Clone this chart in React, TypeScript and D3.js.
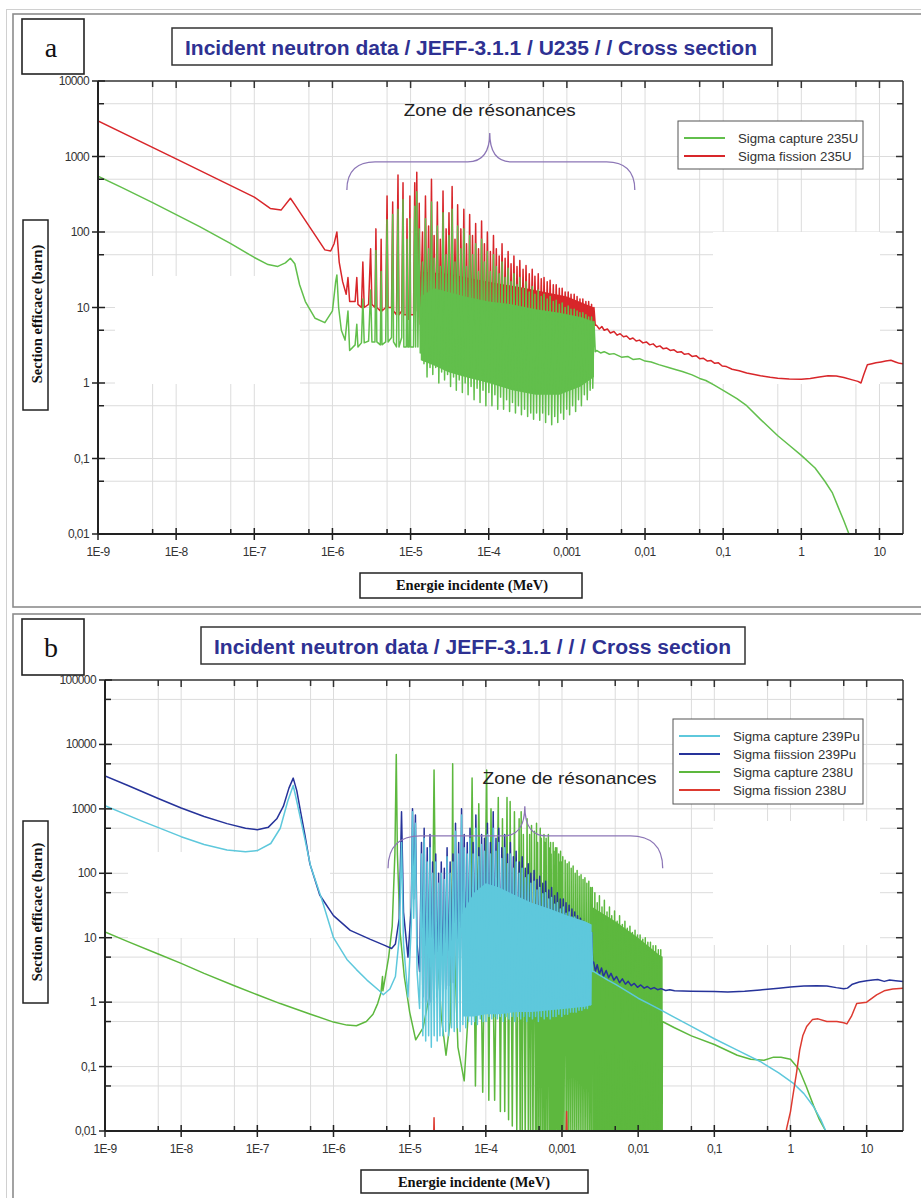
import React from 'react';
import * as d3 from 'd3';

type Pt = [number, number];
type Res = [number, number, number]; // energy, peak, following trough
type Band = [number, number, number]; // energy, low, high

// ================= Panel a : U235 =================
const titleA = 'Incident neutron data / JEFF-3.1.1 / U235 / / Cross section';
const legendLabelsA = ['Sigma capture 235U', 'Sigma fission 235U'];
const xTickValuesA = [1e-9, 1e-8, 1e-7, 1e-6, 1e-5, 1e-4, 1e-3, 1e-2, 1e-1, 1, 10];
const xTickLabelsA = ['1E-9', '1E-8', '1E-7', '1E-6', '1E-5', '1E-4', '0,001', '0,01', '0,1', '1', '10'];
const yTickValuesA = [0.01, 0.1, 1, 10, 100, 1000, 10000];
const yTickLabelsA = ['0,01', '0,1', '1', '10', '100', '1000', '10000'];

const capture235Before: Pt[] = [
  [1e-9, 550], [2e-9, 390], [5e-9, 245], [1e-8, 170], [2e-8, 118], [5e-8, 70], [1e-7, 46], [1.5e-7, 37],
  [2e-7, 35], [2.5e-7, 39], [2.9e-7, 45], [3.3e-7, 38], [3.8e-7, 20], [4.5e-7, 12], [6e-7, 7.2], [8e-7, 6.3],
  [1e-6, 9], [1.1e-6, 22], [1.14e-6, 27], [1.2e-6, 10], [1.3e-6, 5], [1.45e-6, 3.7], [1.58e-6, 9], [1.66e-6, 2.7],
  [1.95e-6, 3.2], [2.05e-6, 6], [2.12e-6, 3], [2.35e-6, 3.4], [2.45e-6, 13], [2.55e-6, 3.4], [2.9e-6, 3.6],
  [3.08e-6, 17], [3.2e-6, 3.5], [3.5e-6, 3.5], [3.6e-6, 57], [3.7e-6, 3.5], [4.1e-6, 3.2], [4.2e-6, 30],
  [4.3e-6, 3.2], [4.8e-6, 3.5], [5.0e-6, 145], [5.15e-6, 3.5], [5.7e-6, 4], [5.9e-6, 170], [6.05e-6, 3.5],
  [6.6e-6, 3], [6.9e-6, 200], [7.1e-6, 3], [7.7e-6, 4], [8.0e-6, 270], [8.2e-6, 3], [8.8e-6, 3],
  [9.0e-6, 80], [9.2e-6, 3], [9.6e-6, 3], [9.8e-6, 150], [1.0e-5, 3], [1.09e-5, 3], [1.13e-5, 220],
  [1.16e-5, 3], [1.2e-5, 340], [1.24e-5, 3], [1.29e-5, 110], [1.33e-5, 2.5]
];
const capture235Res: Res[] = [
  [1.42e-5, 40, 1.8], [1.55e-5, 150, 1.2], [1.7e-5, 60, 1.6], [1.85e-5, 250, 1.3], [2.0e-5, 45, 1.6],
  [2.2e-5, 120, 1.0], [2.4e-5, 35, 1.4], [2.6e-5, 180, 1.1], [2.85e-5, 50, 1.3], [3.1e-5, 90, 0.9],
  [3.4e-5, 200, 1.2], [3.7e-5, 40, 0.8], [4.0e-5, 120, 1.1], [4.4e-5, 60, 0.75], [4.8e-5, 110, 1.0],
  [5.2e-5, 35, 0.7], [5.7e-5, 90, 0.9], [6.2e-5, 50, 0.6], [6.8e-5, 70, 0.85], [7.4e-5, 30, 0.55],
  [8.1e-5, 80, 0.8], [8.8e-5, 40, 0.5], [9.6e-5, 55, 0.75], [1.05e-4, 30, 0.5], [1.15e-4, 50, 0.7],
  [1.25e-4, 35, 0.45], [1.36e-4, 28, 0.65], [1.48e-4, 40, 0.45], [1.62e-4, 25, 0.6], [1.77e-4, 33, 0.42],
  [1.93e-4, 22, 0.55], [2.1e-4, 28, 0.4], [2.3e-4, 20, 0.5], [2.5e-4, 25, 0.38], [2.75e-4, 18, 0.45],
  [3.0e-4, 22, 0.36], [3.3e-4, 16, 0.4], [3.6e-4, 19, 0.33], [3.9e-4, 15, 0.4], [4.3e-4, 17, 0.32],
  [4.7e-4, 14, 0.4], [5.1e-4, 15, 0.3], [5.6e-4, 13, 0.38], [6.1e-4, 14, 0.28], [6.7e-4, 12, 0.36],
  [7.3e-4, 12.5, 0.3], [8.0e-4, 11, 0.4], [8.7e-4, 11.5, 0.33], [9.5e-4, 10, 0.45], [1.04e-3, 10.5, 0.38],
  [1.13e-3, 9.5, 0.5], [1.24e-3, 9.5, 0.42], [1.35e-3, 9, 0.6], [1.47e-3, 8.5, 0.5], [1.6e-3, 8.5, 0.7],
  [1.75e-3, 8, 0.6], [1.9e-3, 7.5, 0.8], [2.07e-3, 7.5, 0.85], [2.22e-3, 6.5, 2.6]
];
const capture235Band: Band[] = [
  [1.35e-5, 2, 14], [2e-5, 1.7, 18], [3e-5, 1.4, 16], [5e-5, 1.2, 14], [1e-4, 1.0, 12], [2e-4, 0.8, 11],
  [4e-4, 0.7, 9.5], [8e-4, 0.7, 8.5], [1.5e-3, 0.9, 7.5], [2.22e-3, 1.2, 6.5]
];
const capture235After: Pt[] = [
  [2.4e-3, 2.7], [2.7e-3, 2.5], [3e-3, 2.6], [3.5e-3, 2.4], [4e-3, 2.45], [5e-3, 2.2], [6e-3, 2.25],
  [7e-3, 2.05], [8.5e-3, 2.1], [1e-2, 1.95], [1.2e-2, 1.9], [1.5e-2, 1.75], [2e-2, 1.6], [2.5e-2, 1.5],
  [3e-2, 1.42], [4e-2, 1.28], [5e-2, 1.15], [6e-2, 1.08], [7.5e-2, 0.95], [0.1, 0.8], [0.15, 0.62],
  [0.2, 0.5], [0.3, 0.33], [0.5, 0.2], [0.7, 0.15], [1, 0.11], [1.5, 0.075], [2, 0.05], [2.5, 0.035],
  [3, 0.022], [3.5, 0.015], [4, 0.0105], [4.5, 0.007]
];

const fission235Before: Pt[] = [
  [1e-9, 2950], [1e-8, 930], [1e-7, 290], [1.6e-7, 205], [2.2e-7, 195], [2.9e-7, 280], [3.3e-7, 230],
  [3.8e-7, 185], [6e-7, 91], [8e-7, 58], [9.5e-7, 56], [1.05e-6, 70], [1.14e-6, 100], [1.22e-6, 40],
  [1.35e-6, 22], [1.5e-6, 15], [1.58e-6, 25], [1.66e-6, 12], [1.95e-6, 12], [2.05e-6, 25], [2.12e-6, 11],
  [2.35e-6, 10], [2.45e-6, 40], [2.55e-6, 10], [2.9e-6, 11], [3.08e-6, 60], [3.2e-6, 11], [3.5e-6, 10],
  [3.6e-6, 110], [3.7e-6, 10], [4.1e-6, 9], [4.2e-6, 80], [4.3e-6, 9], [4.8e-6, 10], [5.0e-6, 300],
  [5.15e-6, 10], [5.7e-6, 10], [5.9e-6, 250], [6.05e-6, 9], [6.6e-6, 8], [6.9e-6, 570], [7.1e-6, 8],
  [7.7e-6, 9], [8.0e-6, 450], [8.2e-6, 8], [8.8e-6, 8], [9.0e-6, 150], [9.2e-6, 7], [9.6e-6, 7],
  [9.8e-6, 300], [1.0e-5, 8], [1.09e-5, 8], [1.13e-5, 450], [1.16e-5, 9], [1.2e-5, 620], [1.24e-5, 8],
  [1.29e-5, 240], [1.33e-5, 6]
];
const fission235Res: Res[] = [
  [1.42e-5, 100, 4.5], [1.55e-5, 300, 4.5], [1.7e-5, 120, 4.5], [1.85e-5, 500, 4], [2.0e-5, 90, 4],
  [2.2e-5, 250, 4], [2.4e-5, 80, 4], [2.6e-5, 350, 3.8], [2.85e-5, 110, 3.8], [3.1e-5, 180, 3.6],
  [3.4e-5, 400, 3.6], [3.7e-5, 80, 3.5], [4.0e-5, 230, 3.5], [4.4e-5, 110, 3.4], [4.8e-5, 200, 3.4],
  [5.2e-5, 70, 3.3], [5.7e-5, 170, 3.3], [6.2e-5, 90, 3.2], [6.8e-5, 130, 3.2], [7.4e-5, 60, 3.1],
  [8.1e-5, 140, 3.1], [8.8e-5, 70, 3], [9.6e-5, 100, 3], [1.05e-4, 55, 3], [1.15e-4, 90, 3],
  [1.25e-4, 60, 3], [1.36e-4, 48, 3], [1.48e-4, 70, 3], [1.62e-4, 45, 3], [1.77e-4, 55, 3],
  [1.93e-4, 38, 3], [2.1e-4, 48, 3], [2.3e-4, 35, 3], [2.5e-4, 42, 3], [2.75e-4, 32, 3],
  [3.0e-4, 36, 3], [3.3e-4, 28, 3], [3.6e-4, 32, 3], [3.9e-4, 26, 3], [4.3e-4, 28, 3], [4.7e-4, 24, 3],
  [5.1e-4, 25, 3], [5.6e-4, 22, 3], [6.1e-4, 23, 3], [6.7e-4, 20, 3], [7.3e-4, 20, 3], [8.0e-4, 18, 3],
  [8.7e-4, 18, 3], [9.5e-4, 16, 3], [1.04e-3, 16, 3], [1.13e-3, 15, 3], [1.24e-3, 15, 3],
  [1.35e-3, 14, 3], [1.47e-3, 13, 3], [1.6e-3, 13, 3], [1.75e-3, 12, 3], [1.9e-3, 12, 3],
  [2.07e-3, 11, 3], [2.22e-3, 10, 5.8]
];
const fission235Band: Band[] = [
  [1.35e-5, 4, 30], [3e-5, 3.5, 28], [1e-4, 3, 22], [3e-4, 3, 18], [1e-3, 3, 14], [2.22e-3, 4, 10]
];
const fission235After: Pt[] = [
  [2.4e-3, 5.8], [2.6e-3, 5.2], [2.8e-3, 5.6], [3.0e-3, 5.0], [3.3e-3, 5.2], [3.6e-3, 4.6], [4.0e-3, 4.8],
  [4.4e-3, 4.3], [4.8e-3, 4.5], [5.3e-3, 4.1], [5.8e-3, 4.2], [6.4e-3, 3.8], [7e-3, 3.95], [7.7e-3, 3.6],
  [8.5e-3, 3.7], [9.4e-3, 3.4], [1.04e-2, 3.5], [1.15e-2, 3.2], [1.27e-2, 3.3], [1.4e-2, 3.0],
  [1.55e-2, 3.1], [1.7e-2, 2.85], [1.9e-2, 2.9], [2.1e-2, 2.7], [2.35e-2, 2.75], [2.6e-2, 2.55],
  [2.9e-2, 2.6], [3.2e-2, 2.4], [3.6e-2, 2.45], [4e-2, 2.25], [4.5e-2, 2.3], [5e-2, 2.1], [5.6e-2, 2.12],
  [6.3e-2, 1.95], [7e-2, 1.98], [7.8e-2, 1.82], [8.7e-2, 1.85], [9.7e-2, 1.68], [0.11, 1.65],
  [0.13, 1.52], [0.16, 1.45], [0.2, 1.36], [0.25, 1.3], [0.3, 1.25], [0.4, 1.19], [0.5, 1.16],
  [0.7, 1.13], [1, 1.12], [1.3, 1.15], [1.7, 1.2], [2.2, 1.25], [2.8, 1.24], [3.5, 1.18], [4.5, 1.1],
  [5.3, 1.05], [5.8, 1.0], [6.3, 1.3], [7, 1.75], [8, 1.8], [9, 1.85], [10.5, 1.9], [12, 1.95],
  [14, 2.0], [16, 1.9], [18, 1.82], [20, 1.8]
];

// ================= Panel b : Pu239 / U238 =================
const titleB = 'Incident neutron data / JEFF-3.1.1 / / / Cross section';
const legendLabelsB = ['Sigma capture 239Pu', 'Sigma fiission 239Pu', 'Sigma capture 238U', 'Sigma fission 238U'];
const xTickValuesB = [1e-9, 1e-8, 1e-7, 1e-6, 1e-5, 1e-4, 1e-3, 1e-2, 1e-1, 1, 10];
const xTickLabelsB = ['1E-9', '1E-8', '1E-7', '1E-6', '1E-5', '1E-4', '0,001', '0,01', '0,1', '1', '10'];
const yTickValuesB = [0.01, 0.1, 1, 10, 100, 1000, 10000, 100000];
const yTickLabelsB = ['0,01', '0,1', '1', '10', '100', '1000', '10000', '100000'];

const fission239Before: Pt[] = [
  [1e-9, 3240], [2e-9, 2300], [5e-9, 1450], [1e-8, 1030], [2e-8, 760], [4e-8, 590], [7e-8, 500],
  [1e-7, 475], [1.4e-7, 520], [1.8e-7, 700], [2.2e-7, 1100], [2.6e-7, 2100], [2.96e-7, 3000],
  [3.3e-7, 1900], [3.7e-7, 900], [4.2e-7, 400], [4.9e-7, 140], [6.6e-7, 46], [1e-6, 22], [1.66e-6, 13],
  [3e-6, 9.5], [4.7e-6, 7.6], [5.8e-6, 6.8], [6.5e-6, 8], [7.3e-6, 20], [7.82e-6, 900], [8.3e-6, 25],
  [9.5e-6, 5], [1.05e-5, 30], [1.09e-5, 1000], [1.13e-5, 40], [1.19e-5, 800], [1.25e-5, 8], [1.35e-5, 3]
];
const fission239Res: Res[] = [
  [1.43e-5, 300, 1.2], [1.55e-5, 500, 1.0], [1.7e-5, 250, 0.9], [1.85e-5, 400, 1.0], [2.0e-5, 150, 1.1],
  [2.2e-5, 200, 1.2], [2.4e-5, 100, 1.3], [2.6e-5, 150, 1.5], [2.85e-5, 120, 1.6], [3.1e-5, 250, 1.8],
  [3.4e-5, 150, 2], [3.7e-5, 200, 2], [4.0e-5, 600, 2.2], [4.4e-5, 300, 2.4], [4.8e-5, 1000, 2.5],
  [5.2e-5, 400, 2.6], [5.7e-5, 300, 2.8], [6.2e-5, 500, 3], [6.8e-5, 300, 3], [7.4e-5, 800, 3],
  [8.1e-5, 250, 3], [8.8e-5, 400, 3], [9.6e-5, 350, 3], [1.05e-4, 600, 3], [1.15e-4, 300, 3],
  [1.25e-4, 900, 3], [1.36e-4, 350, 3], [1.48e-4, 500, 3], [1.62e-4, 250, 3], [1.77e-4, 400, 3],
  [1.93e-4, 200, 3], [2.1e-4, 300, 3], [2.3e-4, 180, 3], [2.5e-4, 220, 3], [2.75e-4, 150, 3],
  [3.0e-4, 180, 3], [3.3e-4, 120, 3], [3.6e-4, 140, 3], [3.9e-4, 100, 3], [4.3e-4, 110, 3],
  [4.7e-4, 80, 3], [5.1e-4, 90, 3], [5.6e-4, 70, 3], [6.1e-4, 75, 3], [6.7e-4, 55, 3], [7.3e-4, 60, 3],
  [8.0e-4, 45, 3], [8.7e-4, 50, 3], [9.5e-4, 40, 3], [1.04e-3, 40, 3], [1.13e-3, 35, 3], [1.24e-3, 32, 3],
  [1.35e-3, 28, 3], [1.47e-3, 25, 3], [1.6e-3, 22, 3], [1.75e-3, 20, 3], [1.9e-3, 18, 3],
  [2.07e-3, 16, 3], [2.25e-3, 15, 3.5], [2.45e-3, 12, 4]
];
const fission239After: Pt[] = [
  [2.6e-3, 4.2], [2.75e-3, 3.0], [2.9e-3, 3.8], [3.1e-3, 2.7], [3.3e-3, 3.4], [3.5e-3, 2.5], [3.8e-3, 3.1],
  [4.1e-3, 2.4], [4.4e-3, 2.8], [4.8e-3, 2.2], [5.2e-3, 2.5], [5.7e-3, 2.0], [6.2e-3, 2.3], [6.8e-3, 1.9],
  [7.4e-3, 2.1], [8.1e-3, 1.8], [8.9e-3, 1.95], [9.8e-3, 1.7], [1.08e-2, 1.85], [1.2e-2, 1.65],
  [1.32e-2, 1.75], [1.46e-2, 1.6], [1.62e-2, 1.68], [1.8e-2, 1.56], [2e-2, 1.62], [2.3e-2, 1.52],
  [2.6e-2, 1.56], [3e-2, 1.5], [5e-2, 1.48], [0.1, 1.46], [0.15, 1.44], [0.25, 1.47], [0.4, 1.55],
  [0.7, 1.65], [1.0, 1.72], [1.5, 1.78], [2.2, 1.8], [3.0, 1.78], [4.0, 1.68], [5.0, 1.62], [5.6, 1.65],
  [6.5, 1.9], [8, 2.05], [10, 2.15], [12, 2.2], [14, 2.25], [17, 2.1], [20, 2.2], [24, 2.15], [30, 2.1]
];

const capture239Before: Pt[] = [
  [1e-9, 1120], [3e-9, 650], [1e-8, 370], [2e-8, 280], [4e-8, 230], [7e-8, 215], [1e-7, 225],
  [1.5e-7, 290], [2e-7, 500], [2.5e-7, 1300], [2.96e-7, 2300], [3.3e-7, 1300], [4e-7, 450], [5e-7, 130],
  [7e-7, 40], [1e-6, 10], [1.5e-6, 4.6], [2e-6, 3.2], [2.75e-6, 2.2], [4e-6, 1.5], [4.5e-6, 1.3],
  [5.5e-6, 1.6], [6.5e-6, 2.5], [7.3e-6, 10], [7.82e-6, 300], [8.3e-6, 8], [9.5e-6, 1.2], [1.05e-5, 15],
  [1.09e-5, 900], [1.13e-5, 20], [1.19e-5, 600], [1.25e-5, 3], [1.35e-5, 0.8]
];
const capture239Res: Res[] = [
  [1.43e-5, 200, 0.3], [1.55e-5, 350, 0.25], [1.7e-5, 150, 0.3], [1.85e-5, 250, 0.2], [2.0e-5, 100, 0.3],
  [2.2e-5, 150, 0.25], [2.4e-5, 70, 0.3], [2.6e-5, 100, 0.3], [2.85e-5, 80, 0.35], [3.1e-5, 180, 0.3],
  [3.4e-5, 100, 0.4], [3.7e-5, 150, 0.35], [4.0e-5, 450, 0.4], [4.4e-5, 200, 0.35], [4.8e-5, 800, 0.45],
  [5.2e-5, 250, 0.4], [5.7e-5, 200, 0.5], [6.2e-5, 350, 0.45], [6.8e-5, 200, 0.5], [7.4e-5, 500, 0.45],
  [8.1e-5, 180, 0.55], [8.8e-5, 280, 0.5], [9.6e-5, 220, 0.5], [1.05e-4, 400, 0.6], [1.15e-4, 200, 0.55],
  [1.25e-4, 500, 0.6], [1.36e-4, 220, 0.55], [1.48e-4, 300, 0.6], [1.62e-4, 170, 0.5], [1.77e-4, 250, 0.6],
  [1.93e-4, 140, 0.55], [2.1e-4, 200, 0.6], [2.3e-4, 120, 0.5], [2.5e-4, 150, 0.6], [2.75e-4, 100, 0.55],
  [3.0e-4, 120, 0.6], [3.3e-4, 85, 0.5], [3.6e-4, 95, 0.6], [3.9e-4, 70, 0.55], [4.3e-4, 75, 0.6],
  [4.7e-4, 55, 0.5], [5.1e-4, 60, 0.6], [5.6e-4, 48, 0.55], [6.1e-4, 50, 0.6], [6.7e-4, 40, 0.55],
  [7.3e-4, 42, 0.6], [8.0e-4, 33, 0.6], [8.7e-4, 35, 0.65], [9.5e-4, 28, 0.6], [1.04e-3, 30, 0.65],
  [1.13e-3, 24, 0.65], [1.24e-3, 25, 0.7], [1.35e-3, 21, 0.7], [1.47e-3, 21, 0.7], [1.6e-3, 18, 0.75],
  [1.75e-3, 18, 0.75], [1.9e-3, 15, 0.8], [2.07e-3, 15, 0.8], [2.25e-3, 13, 0.9], [2.45e-3, 12, 3]
];
const capture239Band: Band[] = [
  [5e-5, 0.6, 25], [7e-5, 0.6, 50], [1e-4, 0.65, 70], [1.5e-4, 0.65, 60],
  [2.5e-4, 0.7, 45], [4e-4, 0.7, 35], [7e-4, 0.75, 28], [1.2e-3, 0.8, 22], [2e-3, 0.85, 18], [2.45e-3, 0.9, 16]
];
const capture239After: Pt[] = [
  [2.6e-3, 3.0], [3e-3, 2.7], [4e-3, 2.2], [5e-3, 1.9], [7e-3, 1.5], [1e-2, 1.15], [1.5e-2, 0.9],
  [2e-2, 0.75], [3e-2, 0.58], [5e-2, 0.42], [0.1, 0.27], [0.2, 0.18], [0.4, 0.12], [0.7, 0.08],
  [1.07, 0.056], [1.5, 0.038], [2.0, 0.024], [2.5, 0.015], [2.9, 0.01], [3.2, 0.007]
];

const capture238Before: Pt[] = [
  [1e-9, 12.3], [2e-9, 8.7], [5e-9, 5.6], [1e-8, 4.0], [2e-8, 2.8], [5e-8, 1.8], [1e-7, 1.3], [2e-7, 0.95],
  [5e-7, 0.65], [1e-6, 0.49], [1.5e-6, 0.44], [2e-6, 0.43], [2.7e-6, 0.5], [3.3e-6, 0.65], [3.8e-6, 0.95],
  [4.2e-6, 1.4], [4.4e-6, 2.5], [4.45e-6, 1.5], [4.8e-6, 2.5], [5.3e-6, 5], [5.9e-6, 15], [6.4e-6, 200],
  [6.67e-6, 7000], [6.9e-6, 200], [7.5e-6, 12], [8.5e-6, 2.5], [1e-5, 0.7], [1.2e-5, 0.26], [1.5e-5, 0.4],
  [1.8e-5, 1.2], [2.0e-5, 20], [2.09e-5, 4000], [2.2e-5, 15], [2.6e-5, 0.6], [3.0e-5, 0.15], [3.4e-5, 0.5],
  [3.6e-5, 30], [3.67e-5, 5000], [3.75e-5, 20], [4.3e-5, 0.2], [5.2e-5, 0.06], [6.2e-5, 2]
];
const capture238Res: Res[] = [
  [6.6e-5, 3000, 0.05], [8.08e-5, 1200, 0.04], [1.025e-4, 4000, 0.03], [1.169e-4, 1000, 0.03],
  [1.457e-4, 1500, 0.02], [1.653e-4, 700, 0.02], [1.897e-4, 1500, 0.015], [2.085e-4, 1300, 0.012],
  [2.374e-4, 900, 0.01], [2.737e-4, 700, 0.008], [2.91e-4, 900, 0.006], [3.11e-4, 400, 0.006],
  [3.48e-4, 700, 0.006], [3.76e-4, 400, 0.006], [3.98e-4, 550, 0.006], [4.34e-4, 450, 0.006],
  [4.63e-4, 600, 0.006], [4.78e-4, 300, 0.006], [5.18e-4, 500, 0.006], [5.35e-4, 350, 0.006],
  [5.8e-4, 400, 0.006], [5.94e-4, 300, 0.006], [6.19e-4, 350, 0.006], [6.62e-4, 400, 0.006],
  [6.93e-4, 250, 0.006], [7.08e-4, 300, 0.006], [7.21e-4, 200, 0.006], [7.65e-4, 300, 0.006],
  [7.82e-4, 220, 0.006], [8.21e-4, 250, 0.006], [8.56e-4, 250, 0.006], [9.05e-4, 200, 0.006],
  [9.37e-4, 150, 0.006], [9.58e-4, 220, 0.006], [9.91e-4, 150, 0.006], [1.023e-3, 180, 0.006],
  [1.1e-3, 160, 0.006], [1.17e-3, 140, 0.006], [1.24e-3, 150, 0.006], [1.32e-3, 120, 0.006],
  [1.4e-3, 130, 0.006], [1.49e-3, 100, 0.006], [1.58e-3, 110, 0.006], [1.68e-3, 90, 0.006],
  [1.78e-3, 95, 0.006], [1.89e-3, 80, 0.006], [2.0e-3, 85, 0.006], [2.12e-3, 70, 0.006],
  [2.25e-3, 75, 0.006], [2.38e-3, 60, 0.006], [2.5e-3, 60, 0.006], [2.7e-3, 50, 0.006],
  [2.9e-3, 35, 0.006], [3.1e-3, 45, 0.006], [3.35e-3, 30, 0.006], [3.6e-3, 38, 0.006], [3.9e-3, 25, 0.006],
  [4.2e-3, 30, 0.006], [4.5e-3, 22, 0.006], [4.9e-3, 26, 0.006], [5.3e-3, 18, 0.006], [5.7e-3, 22, 0.006],
  [6.2e-3, 16, 0.006], [6.7e-3, 18, 0.006], [7.2e-3, 14, 0.006], [7.8e-3, 15, 0.006], [8.4e-3, 12, 0.006],
  [9.1e-3, 13, 0.006], [9.8e-3, 11, 0.006], [1.06e-2, 11, 0.006], [1.15e-2, 9.5, 0.006],
  [1.24e-2, 10, 0.006], [1.34e-2, 8.5, 0.006], [1.45e-2, 8.5, 0.006], [1.57e-2, 7.5, 0.006],
  [1.7e-2, 7.5, 0.006], [1.84e-2, 6.5, 0.006], [1.98e-2, 6.5, 0.006], [2.05e-2, 5, 0.006]
];
const capture238Band: Band[] = [
  [2.5e-3, 0.006, 30], [5e-3, 0.006, 18], [1e-2, 0.006, 10], [2.05e-2, 0.006, 5]
];
const capture238After: Pt[] = [
  [2.08e-2, 0.5], [3e-2, 0.4], [5e-2, 0.3], [0.1, 0.22], [0.2, 0.15], [0.3, 0.13], [0.45, 0.125],
  [0.6, 0.14], [0.75, 0.14], [1.0, 0.13], [1.3, 0.09], [1.6, 0.05], [2, 0.025], [2.4, 0.015],
  [2.9, 0.01], [3.2, 0.007]
];

const fission238Low: Pt[] = [[2.05e-5, 0.005], [2.09e-5, 0.016], [2.13e-5, 0.005]];
const fission238Mid: Pt[] = [[1.12e-3, 0.005], [1.15e-3, 0.02], [1.18e-3, 0.005]];
const fission238High: Pt[] = [
  [0.86, 0.008], [0.89, 0.011], [1.0, 0.02], [1.07, 0.034], [1.2, 0.08], [1.32, 0.18], [1.45, 0.3],
  [1.63, 0.42], [1.95, 0.54], [2.3, 0.55], [3.0, 0.5], [4.06, 0.5], [5.0, 0.48], [5.5, 0.46], [6.3, 0.6],
  [7.4, 0.95], [10, 1.0], [13.5, 1.3], [17, 1.5], [22, 1.6], [30, 1.65]
];

// ================= colours =================
const GREEN_A = '#62bf4c';
const RED_A = '#d8262a';
const CYAN_B = '#5ec8dc';
const NAVY_B = '#26339a';
const GREEN_B = '#5db83e';
const RED_B = '#dd3a30';
const TITLE_COL = '#2e3192';
const BRACE_COL = '#8c76b6';
const SANS = "'Liberation Sans', Arial, Helvetica, sans-serif";
const SERIF = "'Liberation Serif', 'Times New Roman', serif";

function buildLine(before: Pt[], res: Res[], after: Pt[]): Pt[] {
  const out: Pt[] = before.slice();
  res.forEach((r, i) => {
    out.push([r[0], r[1]]);
    const next = i + 1 < res.length ? res[i + 1][0] : after.length ? after[0][0] : r[0] * 1.08;
    out.push([Math.sqrt(r[0] * next), r[2]]);
  });
  return out.concat(after);
}

interface Series { color: string; parts: Pt[][]; band?: Band[]; width?: number }
interface PanelProps {
  id: string;
  left: number; right: number; top: number; bottom: number;
  xDomain: [number, number]; yDomain: [number, number];
  xTicks: number[]; xLabels: string[]; yTicks: number[]; yLabels: string[];
  series: Series[];
  whiteRects: [number, number, number, number][];
  brace: { e0: number; e1: number; e2: number; yEnd: number; yBar: number; yTip: number };
  zone: { e: number; v: number; len: number };
  legend: { x: number; y: number; w: number; h: number; items: { label: string; color: string }[]; step: number };
}

function Panel(p: PanelProps) {
  const x = d3.scaleLog().domain(p.xDomain).range([p.left, p.right]);
  const y = d3.scaleLog().domain(p.yDomain).range([p.bottom, p.top]);
  const minorX = p.xTicks.map((t) => t * 5).filter((t) => t < p.xDomain[1]);
  const minorY = p.yTicks.map((t) => t * 5).filter((t) => t < p.yDomain[1]);
  const line = d3.line<Pt>().x((d) => x(d[0])).y((d) => y(d[1]));
  const area = d3.area<Band>().x((d) => x(d[0])).y0((d) => y(d[1])).y1((d) => y(d[2]));
  const clip = `clip-${p.id}`;
  const gridCol = '#dcdcdc';

  const bx0 = x(p.brace.e0), bx1 = x(p.brace.e1), bx2 = x(p.brace.e2);
  const byE = y(p.brace.yEnd), byB = y(p.brace.yBar), byT = y(p.brace.yTip);
  const r = byE - byB;
  const bracePath = `M${bx0},${byE} C${bx0},${byB + r * 0.3} ${bx0 + r * 0.4},${byB} ${bx0 + r},${byB} L${bx1 - 22},${byB} C${bx1 - 8},${byB} ${bx1},${byB - 8} ${bx1},${byT} C${bx1},${byB - 8} ${bx1 + 8},${byB} ${bx1 + 22},${byB} L${bx2 - r},${byB} C${bx2 - r * 0.4},${byB} ${bx2},${byB + r * 0.3} ${bx2},${byE}`;

  return (
    <g>
      <defs>
        <clipPath id={clip}>
          <rect x={p.left} y={p.top} width={p.right - p.left} height={p.bottom - p.top} />
        </clipPath>
      </defs>
      {[...p.xTicks, ...minorX].filter((t) => t > p.xDomain[0]).map((t, i) => (
        <line key={`gx${i}`} x1={x(t)} x2={x(t)} y1={p.top} y2={p.bottom} stroke={gridCol} strokeWidth={1} />
      ))}
      {[...p.yTicks, ...minorY].filter((t) => t > p.yDomain[0] && t < p.yDomain[1]).map((t, i) => (
        <line key={`gy${i}`} x1={p.left} x2={p.right} y1={y(t)} y2={y(t)} stroke={gridCol} strokeWidth={1} />
      ))}
      {p.whiteRects.map((w, i) => (
        <rect key={`w${i}`} x={w[0]} y={w[1]} width={w[2]} height={w[3]} fill="#fff" />
      ))}
      <g clipPath={`url(#${clip})`}>
        {p.series.map((s, i) => (
          <g key={`s${i}`}>
            {s.band && <path d={area(s.band) || ''} fill={s.color} stroke="none" />}
            {s.parts.map((pt, j) => (
              <path key={j} d={line(pt) || ''} fill="none" stroke={s.color} strokeWidth={s.width ?? 1.5} strokeLinejoin="round" />
            ))}
          </g>
        ))}
      </g>
      <line x1={p.left} x2={p.right} y1={p.top} y2={p.top} stroke="#333" strokeWidth={1.5} />
      <line x1={p.right} x2={p.right} y1={p.top} y2={p.bottom} stroke="#333" strokeWidth={1.5} />
      <line x1={p.left} x2={p.left} y1={p.top} y2={p.bottom} stroke="#222" strokeWidth={2} />
      <line x1={p.left} x2={p.right} y1={p.bottom} y2={p.bottom} stroke="#222" strokeWidth={2} />
      {p.xTicks.map((t, i) => (
        <g key={`xt${i}`}>
          <line x1={x(t)} x2={x(t)} y1={p.bottom - 6} y2={p.bottom + 6} stroke="#222" strokeWidth={1.5} />
          {i > 0 && <line x1={x(t)} x2={x(t)} y1={p.top} y2={p.top + 7} stroke="#333" strokeWidth={1.5} />}
          <text x={x(t)} y={p.bottom + 22} textAnchor="middle" fontFamily={SANS} fontSize={12} letterSpacing={-0.6} fill="#333">{p.xLabels[i]}</text>
        </g>
      ))}
      {minorX.map((t, i) => (
        <g key={`xm${i}`}>
          <line x1={x(t)} x2={x(t)} y1={p.bottom - 5} y2={p.bottom} stroke="#222" strokeWidth={1.5} />
          <line x1={x(t)} x2={x(t)} y1={p.top} y2={p.top + 6} stroke="#333" strokeWidth={1.5} />
        </g>
      ))}
      {p.yTicks.map((t, i) => (
        <g key={`yt${i}`}>
          <line x1={p.left - 6} x2={p.left + 7} y1={y(t)} y2={y(t)} stroke="#222" strokeWidth={1.5} />
          {i > 0 && i < p.yTicks.length - 1 && <line x1={p.right - 7} x2={p.right} y1={y(t)} y2={y(t)} stroke="#333" strokeWidth={1.5} />}
          <text x={p.left - 9} y={y(t) + 4} textAnchor="end" fontFamily={SANS} fontSize={12} letterSpacing={-0.6} fill="#333">{p.yLabels[i]}</text>
        </g>
      ))}
      {minorY.map((t, i) => (
        <g key={`ym${i}`}>
          <line x1={p.left} x2={p.left + 6} y1={y(t)} y2={y(t)} stroke="#222" strokeWidth={1.5} />
          <line x1={p.right - 6} x2={p.right} y1={y(t)} y2={y(t)} stroke="#333" strokeWidth={1.5} />
        </g>
      ))}
      <path d={bracePath} fill="none" stroke={BRACE_COL} strokeWidth={1.3} />
      <text x={x(p.zone.e)} y={y(p.zone.v)} textAnchor="middle" fontFamily={SANS} fontSize={17} fill="#222"
        textLength={p.zone.len} lengthAdjust="spacingAndGlyphs">Zone de résonances</text>
      <rect x={p.legend.x} y={p.legend.y} width={p.legend.w} height={p.legend.h} fill="#fff" stroke="#555" strokeWidth={1} />
      {p.legend.items.map((it, i) => {
        const ly = p.legend.y + 17 + i * p.legend.step;
        return (
          <g key={`lg${i}`}>
            <line x1={p.legend.x + 6} x2={p.legend.x + 47} y1={ly} y2={ly} stroke={it.color} strokeWidth={2} />
            <text x={p.legend.x + 60} y={ly + 5} fontFamily={SANS} fontSize={13.2} fill="#333">{it.label}</text>
          </g>
        );
      })}
    </g>
  );
}

export default function App() {
  const seriesA: Series[] = [
    { color: RED_A, parts: [buildLine(fission235Before, fission235Res, fission235After)], band: fission235Band },
    { color: GREEN_A, parts: [buildLine(capture235Before, capture235Res, capture235After)], band: capture235Band },
  ];
  const seriesB: Series[] = [
    { color: GREEN_B, parts: [buildLine(capture238Before, capture238Res, capture238After)], band: capture238Band },
    { color: NAVY_B, parts: [buildLine(fission239Before, fission239Res, fission239After)] },
    { color: CYAN_B, parts: [buildLine(capture239Before, capture239Res, capture239After)], band: capture239Band },
    { color: RED_B, parts: [fission238Low, fission238Mid, fission238High] },
  ];

  return (
    <div style={{ position: 'absolute', left: 0, top: 0 }}>
      <svg width={921} height={1198} viewBox="0 0 921 1198" xmlns="http://www.w3.org/2000/svg" style={{ display: 'block', background: '#fff' }}>
        <rect x={0} y={0} width={921} height={1198} fill="#fff" />
        <rect x={6.5} y={9.5} width={930} height={1200} fill="none" stroke="#d0d0d0" strokeWidth={1} />
        <rect x={13} y={14} width={930} height={593} fill="none" stroke="#8c8c8c" strokeWidth={1.6} />
        <rect x={13} y={614} width={930} height={600} fill="none" stroke="#8c8c8c" strokeWidth={1.6} />

        {/* ---------- panel a ---------- */}
        <rect x={22} y={19} width={62} height={55} fill="#fff" stroke="#222" strokeWidth={1.6} />
        <text x={51} y={57} textAnchor="middle" fontFamily={SERIF} fontSize={28} fill="#111">a</text>
        <rect x={172} y={28} width={600} height={37} fill="#fff" stroke="#333" strokeWidth={1.5} />
        <text x={471} y={55} textAnchor="middle" fontFamily={SANS} fontWeight="bold" fontSize={19.5} fill={TITLE_COL}
          textLength={572} lengthAdjust="spacingAndGlyphs">{titleA}</text>
        <Panel
          id="a" left={98} right={903} top={81} bottom={534}
          xDomain={[1e-9, 20]} yDomain={[0.01, 10000]}
          xTicks={xTickValuesA} xLabels={xTickLabelsA} yTicks={yTickValuesA} yLabels={yTickLabelsA}
          series={seriesA}
          whiteRects={[[115, 276, 185, 108], [713, 232, 167, 152]]}
          brace={{ e0: 1.53e-6, e1: 1.03e-4, e2: 7.4e-3, yEnd: 360, yBar: 850, yTip: 2050 }}
          zone={{ e: 1.03e-4, v: 3400, len: 172 }}
          legend={{ x: 678, y: 121, w: 185, h: 48, step: 18, items: [
            { label: legendLabelsA[0], color: GREEN_A }, { label: legendLabelsA[1], color: RED_A }] }}
        />
        <rect x={23} y={220} width={25} height={190} fill="#fff" stroke="#222" strokeWidth={1.5} />
        <text transform="translate(42,314) rotate(-90)" textAnchor="middle" fontFamily={SERIF} fontWeight="bold" fontSize={14.5} fill="#111">Section efficace (barn)</text>
        <rect x={360} y={573} width={222} height={25} fill="#fff" stroke="#222" strokeWidth={1.5} />
        <text x={472} y={590} textAnchor="middle" fontFamily={SERIF} fontWeight="bold" fontSize={14.5} fill="#111">Energie incidente (MeV)</text>

        {/* ---------- panel b ---------- */}
        <rect x={22} y={619} width={62} height={56} fill="#fff" stroke="#222" strokeWidth={1.6} />
        <text x={51} y={657} textAnchor="middle" fontFamily={SERIF} fontSize={28} fill="#111">b</text>
        <rect x={201} y={627} width={544} height={37} fill="#fff" stroke="#333" strokeWidth={1.5} />
        <text x={472.5} y={654} textAnchor="middle" fontFamily={SANS} fontWeight="bold" fontSize={19.5} fill={TITLE_COL}
          textLength={517} lengthAdjust="spacingAndGlyphs">{titleB}</text>
        <Panel
          id="b" left={105} right={903} top={680} bottom={1131}
          xDomain={[1e-9, 30]} yDomain={[0.01, 100000]}
          xTicks={xTickValuesB} xLabels={xTickLabelsB} yTicks={yTickValuesB} yLabels={yTickLabelsB}
          series={seriesB}
          whiteRects={[[128, 852, 202, 86], [713, 821, 167, 124]]}
          brace={{ e0: 5.2e-6, e1: 3.25e-4, e2: 2.1e-2, yEnd: 120, yBar: 380, yTip: 1100 }}
          zone={{ e: 1.26e-3, v: 2400, len: 174 }}
          legend={{ x: 673, y: 719, w: 190, h: 85, step: 18, items: [
            { label: legendLabelsB[0], color: CYAN_B }, { label: legendLabelsB[1], color: NAVY_B },
            { label: legendLabelsB[2], color: GREEN_B }, { label: legendLabelsB[3], color: RED_B }] }}
        />
        <rect x={23} y={821} width={25} height={182} fill="#fff" stroke="#222" strokeWidth={1.5} />
        <text transform="translate(42,912) rotate(-90)" textAnchor="middle" fontFamily={SERIF} fontWeight="bold" fontSize={14.5} fill="#111">Section efficace (barn)</text>
        <rect x={361} y={1170} width={227} height={23} fill="#fff" stroke="#222" strokeWidth={1.5} />
        <text x={474} y={1187} textAnchor="middle" fontFamily={SERIF} fontWeight="bold" fontSize={14.5} fill="#111">Energie incidente (MeV)</text>
      </svg>
    </div>
  );
}
